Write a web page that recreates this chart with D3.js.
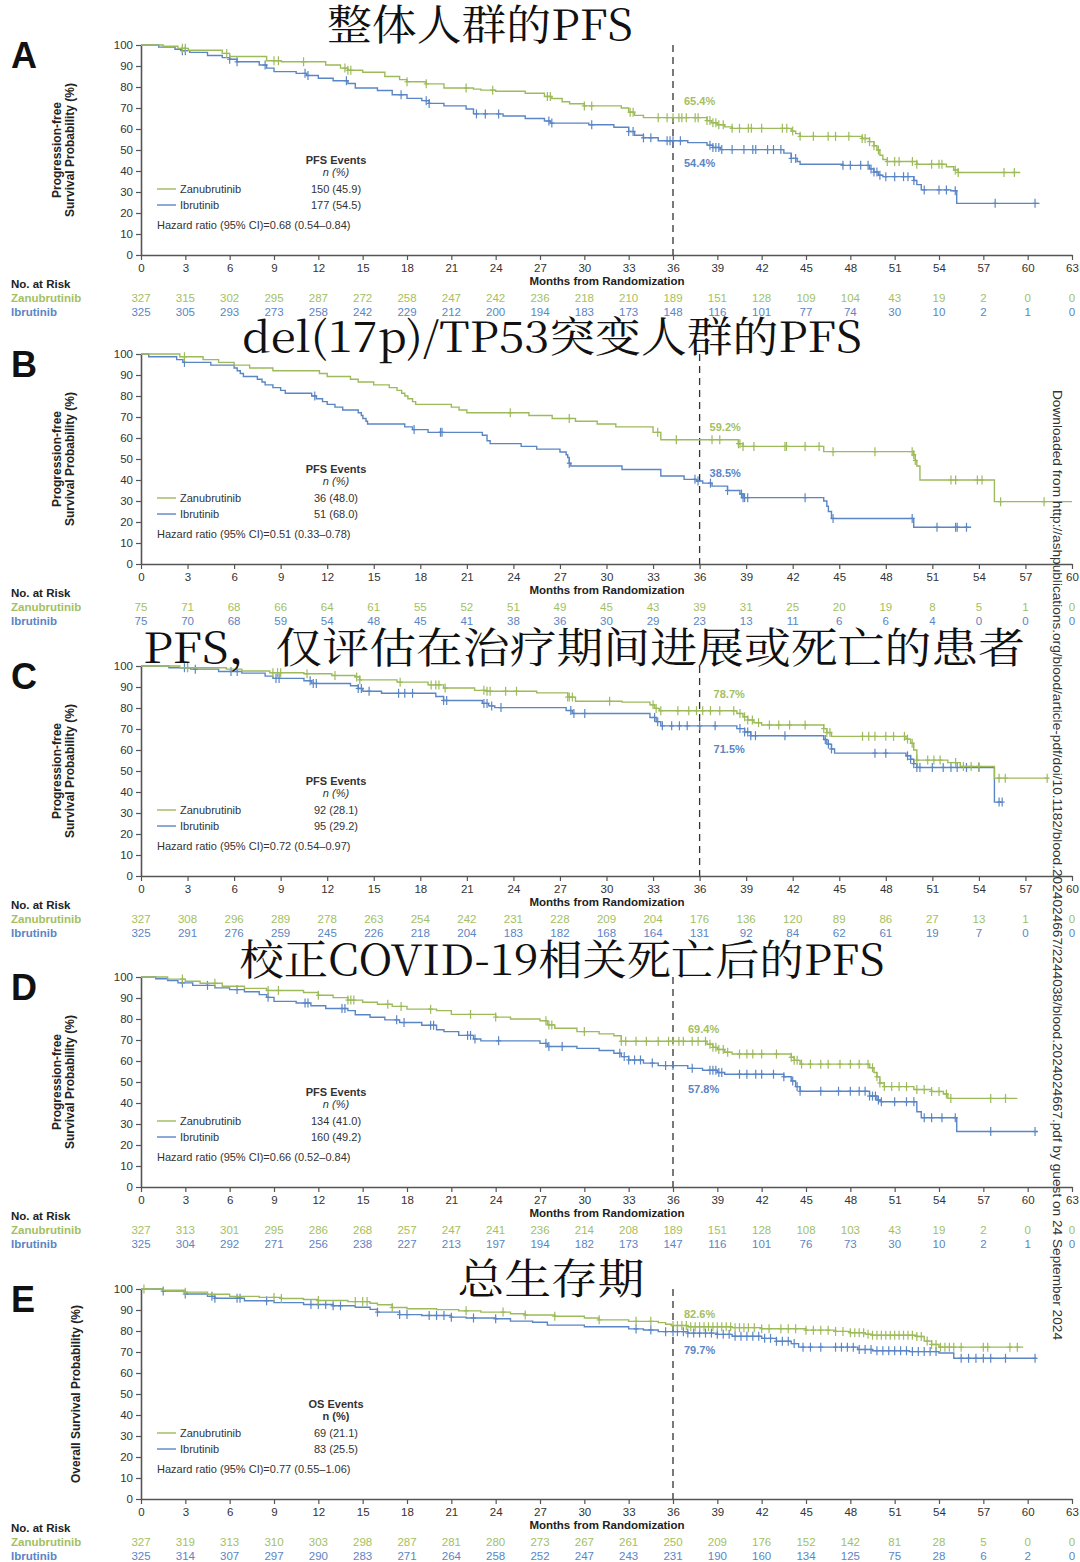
<!DOCTYPE html>
<html><head><meta charset="utf-8">
<script src="https://cdn.jsdelivr.net/npm/d3@7"></script>
<style>body{margin:0;background:#fff}svg{display:block}</style>
</head><body><svg id="c" width="1080" height="1562"></svg>
<script>
// ---------- data ----------
const ticks63 = [0,3,6,9,12,15,18,21,24,27,30,33,36,39,42,45,48,51,54,57,60,63];
const ticks60 = [0,3,6,9,12,15,18,21,24,27,30,33,36,39,42,45,48,51,54,57,60];
const yTicks = [0,10,20,30,40,50,60,70,80,90,100];

// Panel A
const aZanuSteps = [[0,100],[1.5,99.4],[2.5,98.4],[3.2,97.5],[5.5,96],[6,94.5],[8.5,92.5],[9.5,92],[12.5,90.5],[13.5,89],[14,88],[15,87],[16.5,85],[17.5,83.5],[18,82.5],[19.3,81.5],[20.5,79.5],[22.5,79],[23,78.5],[24,78],[26,77],[27.3,75.5],[27.8,74.5],[28.5,73],[29,72],[30,71],[32.5,70],[33,68],[33.4,66.5],[34,65.4],[38.3,64],[38.6,63],[39,62],[39.5,61],[40,60.3],[44,59],[44.3,57.8],[44.6,56.5],[48.8,55.5],[49.3,54],[49.6,52],[49.8,50],[50,47.5],[50.2,45.5],[50.5,44.5],[52.5,43.2],[54.5,42],[55,40.5],[55.3,39.3],[59.5,39.3]];
const aZanuCensor = [2.8,3,5.8,9,9.3,11,13.8,14,14.2,18,19.3,22,23.8,27.5,27.7,30,30.5,33.1,33.3,35,35.6,36,36.4,36.6,36.9,37.5,37.7,38.3,38.5,38.7,38.9,39.1,39.4,40,40.5,41.1,41.3,42,43.4,43.7,44.1,44.6,45.5,46.5,47,47.9,48.8,49,49.3,49.6,49.9,50.5,51,51.3,52.2,52.5,53.5,54,54.2,55.1,55.3,58.4,59.1];
const aIbruSteps = [[0,100],[1.2,99],[2.3,98],[2.8,97.3],[3.3,96.5],[4.5,95],[5.5,94],[6,93.2],[6.5,92],[8,90.5],[8.5,89],[9,87.3],[10.5,86.5],[11.2,85.5],[12,84.2],[13,83],[14,81.7],[14.5,79.5],[16,78.3],[17,76.3],[18,74.6],[19,73.5],[19.5,72.2],[20.5,71],[22,69.5],[22.5,67.2],[24.5,66.2],[26,65],[27.3,63.8],[27.7,62.8],[30.3,62],[32,60.8],[33,58.8],[33.4,57],[34,55.8],[35,54.4],[37,53.5],[38.3,52.3],[38.7,51.2],[39.2,50.2],[43.5,48.5],[44,46],[44.4,44.5],[44.6,43.2],[47.5,42.7],[49.3,41],[49.6,39.5],[49.9,38],[50.2,37.3],[52.3,35.5],[52.5,33.5],[52.8,31],[54.8,30.6],[55.2,24.6],[60.8,24.6]];
const aIbruCensor = [2.8,3,6,6.5,8.4,11.1,11.3,13.9,17.6,19.3,19.5,22.7,23.3,24.2,27.6,27.8,30.5,33,33.3,34,34.5,35.6,35.8,36,36.5,38.5,38.7,38.9,39.1,39.3,40,40.8,41.4,41.6,42.4,42.8,43.3,44,44.3,47.5,48,48.7,49.2,49.4,49.6,49.8,50,50.4,51,51.6,51.9,52.3,53,54,54.5,55.1,57.8,60.5];
const aRiskZanu = [327,315,302,295,287,272,258,247,242,236,218,210,189,151,128,109,104,43,19,2,0,0];
const aRiskIbru = [325,305,293,273,258,242,229,212,200,194,183,173,148,116,101,77,74,30,10,2,1,0];
const aAt36 = [65.4,54.4];

// Panel B
const bZanuSteps = [[0,100],[2.5,98.7],[4,97.3],[5,96],[6,94.7],[7,93.3],[8.5,92],[11.5,90.7],[12,89.3],[13.5,88],[14,86.7],[15,85.3],[16,84],[16.5,82.7],[16.8,81.3],[17,80],[17.2,78.7],[17.5,77.3],[17.7,76],[20,74.7],[20.5,73.3],[21,72],[25,70.7],[26.5,69.3],[28,68],[29.4,66.7],[30.6,65.3],[33,62.7],[33.5,59.2],[38.5,57.3],[38.8,56],[44,53.5],[49.8,52],[49.9,49.3],[50,46.7],[50.2,40],[55,29.7],[60,29.7]];
const bZanuCensor = [2.8,23.8,27.6,33.3,34.5,36.8,37.3,38.5,38.6,38.8,39.5,41.5,41.6,42.8,43.7,44.6,47.3,49.7,49.8,49.9,52.2,52.5,53.9,54.2,55.4,58.2];
const bIbruSteps = [[0,100],[0.5,98.7],[2.3,97.3],[2.7,96],[4.5,94.7],[6,93.3],[6.2,92],[6.4,90.7],[6.6,89.3],[7.5,88],[7.8,86.7],[8,85.3],[8.5,84],[9,82.7],[9.3,81.3],[11,80],[11.3,78.7],[11.7,77.3],[12,76],[12.5,74.7],[13,73.3],[14,72],[14.2,70.7],[14.3,69.3],[14.5,68],[14.6,66.7],[17,65.3],[17.5,64],[18.5,62.7],[22,61.3],[22.3,58.7],[22.5,57.3],[24.5,56],[25.5,54.7],[27,53.3],[27.4,52],[27.5,50.7],[27.6,48],[27.7,46.7],[31,45],[33.5,41.9],[35,40.3],[35.8,39.5],[36.2,38.5],[36.8,37.1],[37.8,35],[38.6,33.3],[38.8,31.6],[44,30],[44.2,27.5],[44.3,25],[44.5,21.7],[49.8,17.5],[53.5,17.5]];
const bIbruCensor = [2.8,11.2,17.6,19.3,19.4,27.6,35.7,35.9,36.7,37.8,38.7,38.8,38.9,39.1,42.8,44.6,49.7,51.3,52.5,52.6,53.2];
const bRiskZanu = [75,71,68,66,64,61,55,52,51,49,45,43,39,31,25,20,19,8,5,1,0];
const bRiskIbru = [75,70,68,59,54,48,45,41,38,36,30,29,23,13,11,6,6,4,0,0,0];
const bAt36 = [59.2,38.5];

// Panel C
const cZanuSteps = [[0,100],[2.5,99.2],[5.5,98.5],[6.5,97.6],[8.3,96.8],[10.5,96.3],[12.3,95.5],[13.8,94.8],[14.1,93.4],[16.5,92.3],[18.5,91],[19.5,89.5],[21.5,88.4],[22.3,88],[25.5,87.2],[27.5,85.2],[28,83.2],[31,82.8],[32.8,81.5],[33.1,79.8],[33.4,78.7],[38.4,77.4],[38.8,75.8],[39.1,74.3],[39.5,73],[40,71.9],[44,70.2],[44.2,68.3],[44.5,66.5],[49.3,65.2],[49.6,63.2],[49.8,60],[50,55.2],[52,54],[52.8,52.2],[55,46.6],[58.5,46.6]];
const cZanuCensor = [3,8.5,8.8,9,10.7,12.5,13.9,14.1,16.7,18.7,19,19.2,19.6,22.1,22.3,22.5,23.5,24.2,27.5,27.6,27.8,30.2,33,33.2,33.5,34.6,35.3,35.8,36.2,36.7,37.3,38.2,38.6,38.9,39.1,39.4,39.8,40.5,41.1,41.8,42.8,44,44.2,44.4,46.5,46.9,47.3,48,48.5,49.2,49.4,49.7,50,50.7,51.1,51.5,52.5,53,53.5,54,55.3,55.7,58.4];
const cIbruSteps = [[0,100],[1.8,99.2],[3.2,98.5],[5,97.4],[6.5,96.6],[8,95.2],[8.5,94.1],[10.5,93],[11,91.7],[13.5,90.6],[14,89.3],[14.3,88],[15.5,87],[19,85.5],[19.5,83.6],[22,82.2],[22.4,81],[22.8,80.2],[27.4,78.8],[27.8,77.4],[32.8,75.5],[33.2,73.5],[33.5,71.5],[38.4,70.2],[38.9,68.6],[39.3,66.8],[44,65],[44.2,62.8],[44.5,60.5],[44.7,58.5],[49.3,57.2],[49.6,55.6],[49.8,53.5],[50,51.7],[55,35.2],[55.5,35.2]];
const cIbruCensor = [2.8,3,3.5,5.8,6.2,8.7,8.9,10.9,11.1,11.3,14,14.2,14.7,16.6,17,17.5,19.5,19.7,22.1,22.3,22.6,23.2,27.7,27.9,28.6,33.1,33.3,33.6,34.2,34.7,35.2,36,37,38.6,38.9,39.1,39.3,39.6,41.5,44.1,44.3,44.5,47.3,48,49.4,49.6,49.8,50,50.2,51,51.7,52.2,52.6,53.2,54,55.3,55.5];
const cRiskZanu = [327,308,296,289,278,263,254,242,231,228,209,204,176,136,120,89,86,27,13,1,0];
const cRiskIbru = [325,291,276,259,245,226,218,204,183,182,168,164,131,92,84,62,61,19,7,0,0];
const cAt36 = [78.7,71.5];

// Panel D
const dZanuSteps = [[0,100],[1.8,99],[3,98],[4,97],[5.5,95.6],[7,94.6],[8.5,93.6],[11,92.6],[12,91.3],[13,90.2],[14,89],[15,88],[16,87],[17,86],[18,84.7],[20,84],[21,82.2],[24,80.9],[25,80],[27,79.2],[27.5,77.2],[28,75.6],[29.5,74],[31,72.9],[32,72],[32.5,69.4],[38.3,68],[38.7,66.5],[39,65.5],[39.5,64.2],[40,63.3],[44,61.8],[44.2,60.3],[44.6,58.5],[49.3,56.8],[49.6,54.5],[49.8,52.5],[50,49.5],[50.3,47.8],[52.3,46.4],[53.5,45.5],[54.3,44.3],[54.6,42.2],[59.3,42.2]];
const dZanuCensor = [2.8,5,8.6,9.3,12,14,14.2,14.4,16.7,17.6,19.6,22.3,24,27.4,27.6,27.8,30,32.5,32.8,33.5,34.2,35,35.7,36,36.4,36.7,37.3,37.7,38.2,38.5,38.7,38.9,39.1,39.4,39.7,40.5,41,41.4,42,43,44,44.2,44.4,44.7,45.3,46,46.5,47.3,48,48.6,49.2,49.5,49.8,50,50.3,50.8,51.3,51.8,52.5,53,53.5,54,54.5,54.8,57.5,58.5];
const dIbruSteps = [[0,100],[1,99.2],[1.8,98.3],[2.5,97.2],[3.5,96],[5,94.8],[6,94],[7,93],[8,91.6],[8.5,90.3],[9,88.4],[10.5,87.6],[11.5,86.3],[12.5,85],[14,84],[14.5,82],[15.5,80.8],[16.5,79.6],[17.5,78.3],[19,77],[20,74.9],[20.5,74],[21.5,72.2],[22.5,70.5],[23,69.6],[27,68.4],[27.5,66.9],[29.5,66],[31,65],[32,63.7],[32.5,62.1],[33,60.5],[34,59],[35,57.8],[37,56.5],[38,55.6],[39,54.5],[39.5,53.7],[43.5,52.5],[44,50.5],[44.3,47.8],[44.6,45.6],[49.3,43.3],[49.8,41.4],[50.1,40.6],[52.5,35.8],[52.8,33],[55.2,26.4],[60.7,26.4]];
const dIbruCensor = [2.8,4.5,6.5,8.6,11.1,11.3,13.6,13.8,17.3,17.8,19.6,19.8,22.1,22.3,22.6,24.2,27.4,27.6,28.5,32.4,32.7,33,33.4,33.8,34.6,35.5,36,37.3,38.5,38.7,38.9,39.1,39.3,40.5,41,41.6,42,42.8,43.5,44.1,44.4,44.6,46,47.2,48,48.6,49,49.3,49.5,49.7,49.9,50.1,51,51.8,52.3,53,53.5,54.2,55.1,57.5,60.5];
const dRiskZanu = [327,313,301,295,286,268,257,247,241,236,214,208,189,151,128,108,103,43,19,2,0,0];
const dRiskIbru = [325,304,292,271,256,238,227,213,197,194,182,173,147,116,101,76,73,30,10,2,1,0];
const dAt36 = [69.4,57.8];

// Panel E
const eZanuSteps = [[0,100],[1.5,99.4],[3,98.5],[4.5,97.5],[6,96.5],[8,96],[9.5,95.5],[11,95],[12,94.5],[14,94],[15.5,93.2],[16,92.5],[17,91.2],[18,90.6],[20,90.2],[21.5,89.6],[23,89],[25,88.2],[26,87.6],[28,87],[30,86.2],[31,85.3],[33,84.6],[35,84],[35.5,83.2],[35.9,82.6],[37,82],[40,81.6],[42,81.1],[45,80.4],[47,79.8],[48,79.2],[49,78.5],[49.5,78],[52.5,77.4],[53,75.2],[53.5,73.6],[54,72.3],[59.7,72.3]];
const eZanuCensor = [0.2,3,9,9.5,12,14.5,15,15.3,17,22,24.5,26,28,31,33.5,34.5,36,36.3,36.6,36.9,37.2,37.5,37.8,38.1,38.4,38.7,39,39.3,39.6,39.9,40.2,40.5,40.8,41.1,41.5,42,42.5,43.3,43.8,44.3,45,45.5,46,46.5,47,47.5,48,48.3,48.6,48.9,49.2,49.5,49.8,50.1,50.4,50.7,51,51.3,51.6,51.9,52.2,52.5,52.8,53.2,53.5,53.8,54.1,54.4,54.7,55,55.5,57,57.3,58.8,59.3];
const eIbruSteps = [[0,100],[1.5,99],[3,97.6],[4.5,96.5],[5,95.6],[7,94.4],[9,93.5],[11,92.6],[13,92],[14.5,91.3],[15.5,90.3],[16,89],[17.5,87.8],[19,87.4],[21,86.6],[22,86.2],[24,85.8],[25,84.7],[26.5,84.2],[27.5,82.8],[30,82],[33,81],[34,80.5],[35,79.7],[37,79],[39,78.4],[40,77.5],[42,76.5],[43,75.1],[44,74],[44.5,72.3],[48.5,71.2],[49.5,70.6],[52,70.2],[54,69.5],[55,67],[60.6,67]];
const eIbruCensor = [1.5,3,4.8,5,6.5,6.7,8.5,11.5,12,12.5,13,13.5,16,17.5,18,19.5,20,20.5,21,22.5,24,33.5,34.5,35.5,36,36.3,36.7,37,37.4,37.8,38.2,38.6,39,39.4,39.8,40.2,40.6,41,41.4,41.8,42.2,42.6,43,43.4,43.8,44.2,44.8,45.3,46,47,47.4,47.8,48.2,48.6,49,49.4,49.8,50.2,50.6,51,51.4,51.8,52.2,52.6,53,53.4,53.8,55.5,56,56.5,57,57.5,58.5,60.5];
const eRiskZanu = [327,319,313,310,303,298,287,281,280,273,267,261,250,209,176,152,142,81,28,5,0,0];
const eRiskIbru = [325,314,307,297,290,283,271,264,258,252,247,243,231,190,160,134,125,75,28,6,2,0];
const eAt36 = [82.6,79.7];

const titles = ["整体人群的PFS","del(17p)/TP53突变人群的PFS","PFS，仅评估在治疗期间进展或死亡的患者","校正COVID-19相关死亡后的PFS","总生存期"];
const letters = ["A","B","C","D","E"];
const eventCounts = [["150 (45.9)","177 (54.5)"],["36 (48.0)","51 (68.0)"],["92 (28.1)","95 (29.2)"],["134 (41.0)","160 (49.2)"],["69 (21.1)","83 (25.5)"]];
const hazardTexts = ["Hazard ratio (95% CI)=0.68 (0.54–0.84)","Hazard ratio (95% CI)=0.51 (0.33–0.78)","Hazard ratio (95% CI)=0.72 (0.54–0.97)","Hazard ratio (95% CI)=0.66 (0.52–0.84)","Hazard ratio (95% CI)=0.77 (0.55–1.06)"];
const seriesNames = ["Zanubrutinib","Ibrutinib"];

// ---------- layout / style ----------
const GREEN = "#9dbb5a", BLUE = "#5a86c6";
const GREEN_T = "#a3bf62", BLUE_T = "#5b85c4";
const REG = "'Liberation Sans', Arial, sans-serif";
const NAR = "'Liberation Sans Narrow', 'Liberation Sans', Arial, sans-serif";
const X0 = 141, X1 = 1072, H = 210;

const panels = [
  {y0:45, xMax:63, ticks:ticks63, narrow:false, zs:aZanuSteps, zc:aZanuCensor, is:aIbruSteps, ic:aIbruCensor, rz:aRiskZanu, ri:aRiskIbru, at36:aAt36, labDx:11, labDy:[-13,26], ev:"PFS Events", nItal:true, yLab:["Progression-free","Survival Probability (%)"], tX:480, tY:40, tW:306},
  {y0:354, xMax:60, ticks:ticks60, narrow:false, zs:bZanuSteps, zc:bZanuCensor, is:bIbruSteps, ic:bIbruCensor, rz:bRiskZanu, ri:bRiskIbru, at36:bAt36, labDx:10, labDy:[-9,-6], ev:"PFS Events", nItal:true, yLab:["Progression-free","Survival Probability (%)"], tX:552, tY:352, tW:620},
  {y0:666, xMax:60, ticks:ticks60, narrow:true, zs:cZanuSteps, zc:cZanuCensor, is:cIbruSteps, ic:cIbruCensor, rz:cRiskZanu, ri:cRiskIbru, at36:cAt36, labDx:14, labDy:[-13,27], ev:"PFS Events", nItal:true, yLab:["Progression-free","Survival Probability (%)"], tX:584, tY:663, tW:882},
  {y0:977, xMax:63, ticks:ticks63, narrow:true, zs:dZanuSteps, zc:dZanuCensor, is:dIbruSteps, ic:dIbruCensor, rz:dRiskZanu, ri:dRiskIbru, at36:dAt36, labDx:15, labDy:[-8,27], ev:"PFS Events", nItal:true, yLab:["Progression-free","Survival Probability (%)"], tX:562, tY:975, tW:645},
  {y0:1289, xMax:63, ticks:ticks63, narrow:true, zs:eZanuSteps, zc:eZanuCensor, is:eIbruSteps, ic:eIbruCensor, rz:eRiskZanu, ri:eRiskIbru, at36:eAt36, labDx:11, labDy:[-8,22], ev:"OS Events", nItal:false, yLab:["Overall Survival Probability (%)"], tX:551, tY:1294, tW:187}
];

const svg = d3.select("#c");
svg.append("rect").attr("width",1080).attr("height",1562).attr("fill","#fff");

function survAt(steps, t){ let v = steps[0][1]; for (const [tt,s] of steps){ if (tt <= t) v = s; else break; } return v; }

panels.forEach((p, pi) => {
  const x = d3.scaleLinear().domain([0, p.xMax]).range([X0, X1]);
  const y = d3.scaleLinear().domain([0, 100]).range([p.y0 + H, p.y0]);
  const font = p.narrow ? NAR : REG;
  const g = svg.append("g");

  // panel letter
  g.append("text").attr("x", 11).attr("y", p.y0 + 23).text(letters[pi])
    .attr("font-family", NAR).attr("font-weight", "bold").attr("font-size", 36).attr("fill", "#111");

  // y label
  const yl = g.append("text").attr("transform", `translate(0,${p.y0 + H/2}) rotate(-90)`)
    .attr("text-anchor", "middle").attr("font-family", REG).attr("font-weight", "bold")
    .attr("font-size", 12).attr("fill", "#222");
  if (p.yLab.length === 2) {
    yl.append("tspan").attr("x", 0).attr("y", 61).text(p.yLab[0]);
    yl.append("tspan").attr("x", 0).attr("y", 74).text(p.yLab[1]);
  } else {
    yl.append("tspan").attr("x", 0).attr("y", 80).text(p.yLab[0]);
  }

  // axes
  const ya = g.append("g").attr("transform", `translate(${X0},0)`)
    .call(d3.axisLeft(y).tickValues(yTicks).tickSize(5).tickSizeOuter(0).tickPadding(3));
  const xa = g.append("g").attr("transform", `translate(0,${p.y0 + H})`)
    .call(d3.axisBottom(x).tickValues(p.ticks).tickSize(5).tickSizeOuter(0).tickPadding(4));
  [ya, xa].forEach(a => {
    a.select(".domain").attr("stroke", "#555").attr("stroke-width", 1.6);
    a.selectAll(".tick line").attr("stroke", "#555").attr("stroke-width", 1.2);
    a.selectAll(".tick text").attr("font-family", font).attr("font-size", 11.5).attr("fill", "#333");
  });

  // 36-month dashed reference
  g.append("line").attr("x1", x(36)).attr("x2", x(36)).attr("y1", p.y0).attr("y2", p.y0 + H)
    .attr("stroke", "#333").attr("stroke-width", 1.3).attr("stroke-dasharray", "7,5");

  // curves
  const line = d3.line().x(d => x(d[0])).y(d => y(d[1])).curve(d3.curveStepAfter);
  const series = [[p.is, p.ic, BLUE], [p.zs, p.zc, GREEN]];
  series.forEach(([steps, cens, col]) => {
    g.append("path").datum(steps).attr("d", line).attr("fill", "none")
      .attr("stroke", col).attr("stroke-width", 1.4);
    const cg = g.append("g").attr("stroke", col).attr("stroke-width", 1.2);
    cens.forEach(t => {
      const cx = x(t), cy = y(survAt(steps, t));
      cg.append("line").attr("x1", cx).attr("x2", cx).attr("y1", cy - 4.5).attr("y2", cy + 4.5);
      cg.append("line").attr("x1", cx - 2.5).attr("x2", cx + 2.5).attr("y1", cy).attr("y2", cy);
    });
  });

  // 36-month labels
  [[p.at36[0], GREEN_T, p.labDy[0]], [p.at36[1], BLUE_T, p.labDy[1]]].forEach(([v, col, dy]) => {
    g.append("text").attr("x", x(36) + p.labDx).attr("y", y(v) + dy).text(v.toFixed(1) + "%")
      .attr("font-family", font).attr("font-weight", "bold").attr("font-size", 11).attr("fill", col);
  });

  // legend block
  const lg = g.append("g").attr("font-family", font).attr("font-size", 11).attr("fill", "#333");
  lg.append("text").attr("x", 336).attr("y", p.y0 + 119).attr("text-anchor", "middle")
    .attr("font-weight", "bold").text(p.ev);
  lg.append("text").attr("x", 336).attr("y", p.y0 + 131).attr("text-anchor", "middle")
    .attr("font-style", p.nItal ? "italic" : "normal").attr("font-weight", p.nItal ? "normal" : "bold").text("n (%)");
  [[GREEN, 144], [BLUE, 160]].forEach(([col, dy], k) => {
    lg.append("line").attr("x1", 157).attr("x2", 176).attr("y1", p.y0 + dy).attr("y2", p.y0 + dy)
      .attr("stroke", col).attr("stroke-width", 1.4);
    lg.append("text").attr("x", 180).attr("y", p.y0 + dy + 4).text(seriesNames[k]);
    lg.append("text").attr("x", 336).attr("y", p.y0 + dy + 4).attr("text-anchor", "middle").text(eventCounts[pi][k]);
  });
  lg.append("text").attr("x", 157).attr("y", p.y0 + 184).text(hazardTexts[pi]);

  // axis title
  g.append("text").attr("x", 607).attr("y", p.y0 + 240).attr("text-anchor", "middle")
    .attr("font-family", NAR).attr("font-weight", "bold").attr("font-size", 11.5).attr("fill", "#222")
    .text("Months from Randomization");

  // risk table
  const rg = g.append("g").attr("font-family", NAR).attr("font-size", 11.5);
  rg.append("text").attr("x", 11).attr("y", p.y0 + 243).attr("font-weight", "bold").attr("fill", "#222").text("No. at Risk");
  rg.append("text").attr("x", 11).attr("y", p.y0 + 257).attr("font-weight", "bold").attr("fill", GREEN_T).text(seriesNames[0]);
  rg.append("text").attr("x", 11).attr("y", p.y0 + 271).attr("font-weight", "bold").attr("fill", BLUE_T).text(seriesNames[1]);
  p.rz.forEach((v, k) => rg.append("text").attr("x", x(p.ticks[k])).attr("y", p.y0 + 257)
    .attr("text-anchor", "middle").attr("fill", GREEN_T).text(v));
  p.ri.forEach((v, k) => rg.append("text").attr("x", x(p.ticks[k])).attr("y", p.y0 + 271)
    .attr("text-anchor", "middle").attr("fill", BLUE_T).text(v));
});

// big Chinese titles
panels.forEach((p, pi) => {
  svg.append("text").attr("x", p.tX).attr("y", p.tY).attr("text-anchor", "middle")
    .attr("font-family", "'Noto Serif CJK SC','Liberation Serif','Noto Sans CJK SC',serif")
    .attr("font-size", 42).attr("fill", "#111")
    .attr("textLength", p.tW).attr("lengthAdjust", "spacingAndGlyphs")
    .text(titles[pi]);
});

// vertical download watermark
svg.append("text").attr("transform", "translate(1053,390) rotate(90)")
  .attr("font-family", REG).attr("font-size", 13).attr("fill", "#333")
  .attr("textLength", 950).attr("lengthAdjust", "spacingAndGlyphs")
  .text("Downloaded from http://ashpublications.org/blood/article-pdf/doi/10.1182/blood.2024024667/2244038/blood.2024024667.pdf by guest on 24 September 2024");
</script></body></html>
